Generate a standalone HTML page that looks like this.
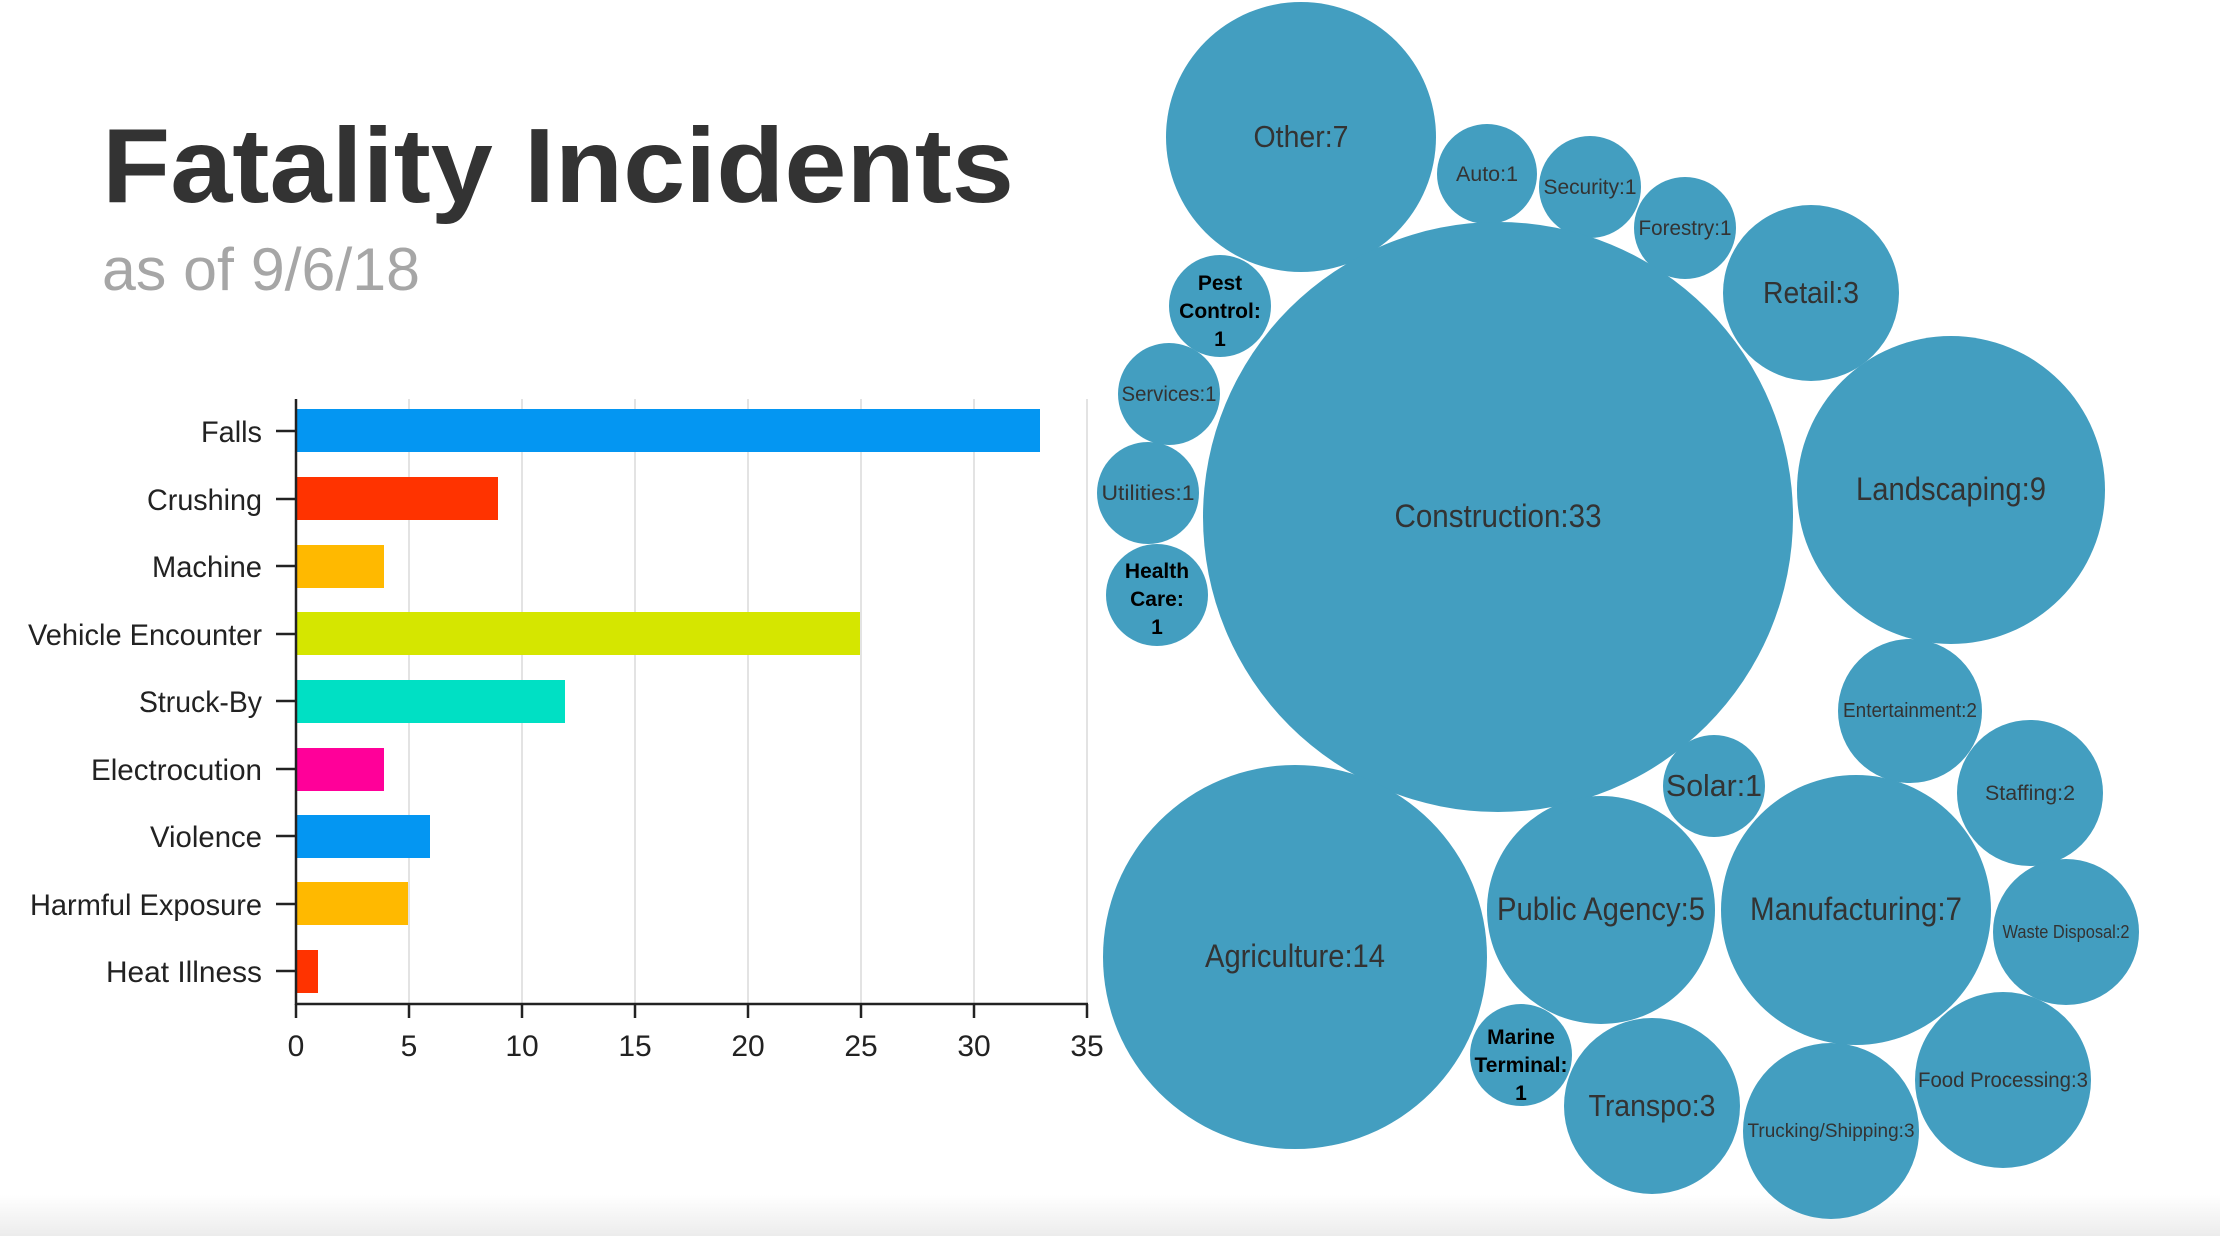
<!DOCTYPE html>
<html><head><meta charset="utf-8"><style>
html,body{margin:0;padding:0;background:#fff;}
svg{display:block;}
.c{fill:#439ec0;}
.t{font-family:"Liberation Sans",sans-serif;fill:#333;text-anchor:middle;}
.b{font-family:"Liberation Sans",sans-serif;fill:#000;text-anchor:middle;font-weight:bold;font-size:21px;}
.yl{font-family:"Liberation Sans",sans-serif;fill:#222;font-size:30px;text-anchor:end;}
.xl{font-family:"Liberation Sans",sans-serif;fill:#222;font-size:30px;text-anchor:middle;}
</style></head><body>
<svg width="2220" height="1236" viewBox="0 0 2220 1236" xmlns="http://www.w3.org/2000/svg">
<defs><linearGradient id="g" x1="0" y1="0" x2="0" y2="1"><stop offset="0" stop-color="#fff"/><stop offset="1" stop-color="#ececec"/></linearGradient></defs>
<rect x="0" y="1195" width="2220" height="41" fill="url(#g)"/>
<text x="102" y="202" font-family="Liberation Sans, sans-serif" font-weight="bold" font-size="106" fill="#333" textLength="912" lengthAdjust="spacingAndGlyphs">Fatality Incidents</text>
<text x="102" y="290" font-family="Liberation Sans, sans-serif" font-size="60" fill="#a6a6a6" textLength="318" lengthAdjust="spacingAndGlyphs">as of 9/6/18</text>
<g stroke="#e3e3e3" stroke-width="2">
<line x1="409" y1="399" x2="409" y2="1004"/><line x1="522" y1="399" x2="522" y2="1004"/>
<line x1="635" y1="399" x2="635" y2="1004"/><line x1="748" y1="399" x2="748" y2="1004"/>
<line x1="861" y1="399" x2="861" y2="1004"/><line x1="974" y1="399" x2="974" y2="1004"/>
<line x1="1087" y1="399" x2="1087" y2="1004"/>
</g>
<rect x="297" y="409" width="743" height="43" fill="#0496f2"/>
<rect x="297" y="477" width="201" height="43" fill="#ff3300"/>
<rect x="297" y="545" width="87" height="43" fill="#ffb900"/>
<rect x="297" y="612" width="563" height="43" fill="#d5e600"/>
<rect x="297" y="680" width="268" height="43" fill="#00e0c4"/>
<rect x="297" y="748" width="87" height="43" fill="#ff0099"/>
<rect x="297" y="815" width="133" height="43" fill="#0496f2"/>
<rect x="297" y="882" width="111" height="43" fill="#ffb900"/>
<rect x="297" y="950" width="21" height="43" fill="#ff3300"/>
<g stroke="#222" stroke-width="2.5">
<line x1="296" y1="399" x2="296" y2="1005"/><line x1="295" y1="1004" x2="1088" y2="1004"/>
<line x1="276" y1="431" x2="296" y2="431"/><line x1="276" y1="499" x2="296" y2="499"/>
<line x1="276" y1="566" x2="296" y2="566"/><line x1="276" y1="634" x2="296" y2="634"/>
<line x1="276" y1="701" x2="296" y2="701"/><line x1="276" y1="769" x2="296" y2="769"/>
<line x1="276" y1="836" x2="296" y2="836"/><line x1="276" y1="904" x2="296" y2="904"/>
<line x1="276" y1="971" x2="296" y2="971"/>
<line x1="296" y1="1004" x2="296" y2="1018"/><line x1="409" y1="1004" x2="409" y2="1018"/>
<line x1="522" y1="1004" x2="522" y2="1018"/><line x1="635" y1="1004" x2="635" y2="1018"/>
<line x1="748" y1="1004" x2="748" y2="1018"/><line x1="861" y1="1004" x2="861" y2="1018"/>
<line x1="974" y1="1004" x2="974" y2="1018"/><line x1="1087" y1="1004" x2="1087" y2="1018"/>
</g>
<text class="yl" x="262" y="442" textLength="61" lengthAdjust="spacingAndGlyphs">Falls</text>
<text class="yl" x="262" y="510" textLength="115" lengthAdjust="spacingAndGlyphs">Crushing</text>
<text class="yl" x="262" y="577" textLength="110" lengthAdjust="spacingAndGlyphs">Machine</text>
<text class="yl" x="262" y="645" textLength="234" lengthAdjust="spacingAndGlyphs">Vehicle Encounter</text>
<text class="yl" x="262" y="712" textLength="123" lengthAdjust="spacingAndGlyphs">Struck-By</text>
<text class="yl" x="262" y="780" textLength="171" lengthAdjust="spacingAndGlyphs">Electrocution</text>
<text class="yl" x="262" y="847" textLength="112" lengthAdjust="spacingAndGlyphs">Violence</text>
<text class="yl" x="262" y="915" textLength="232" lengthAdjust="spacingAndGlyphs">Harmful Exposure</text>
<text class="yl" x="262" y="982" textLength="156" lengthAdjust="spacingAndGlyphs">Heat Illness</text>
<text class="xl" x="296" y="1056">0</text><text class="xl" x="409" y="1056">5</text>
<text class="xl" x="522" y="1056">10</text><text class="xl" x="635" y="1056">15</text>
<text class="xl" x="748" y="1056">20</text><text class="xl" x="861" y="1056">25</text>
<text class="xl" x="974" y="1056">30</text><text class="xl" x="1087" y="1056">35</text>
<circle class="c" cx="1301" cy="137" r="135"/>
<circle class="c" cx="1487" cy="174" r="50"/>
<circle class="c" cx="1590" cy="187" r="51"/>
<circle class="c" cx="1685" cy="228" r="51"/>
<circle class="c" cx="1811" cy="293" r="88"/>
<circle class="c" cx="1220" cy="306" r="51"/>
<circle class="c" cx="1169" cy="394" r="51"/>
<circle class="c" cx="1148" cy="493" r="51"/>
<circle class="c" cx="1157" cy="595" r="51"/>
<circle class="c" cx="1498" cy="517" r="295"/>
<circle class="c" cx="1951" cy="490" r="154"/>
<circle class="c" cx="1910" cy="711" r="72"/>
<circle class="c" cx="2030" cy="793" r="73"/>
<circle class="c" cx="1714" cy="786" r="51"/>
<circle class="c" cx="1295" cy="957" r="192"/>
<circle class="c" cx="1601" cy="910" r="114"/>
<circle class="c" cx="1856" cy="910" r="135"/>
<circle class="c" cx="2066" cy="932" r="73"/>
<circle class="c" cx="1521" cy="1055" r="51"/>
<circle class="c" cx="1652" cy="1106" r="88"/>
<circle class="c" cx="1831" cy="1131" r="88"/>
<circle class="c" cx="2003" cy="1080" r="88"/>
<text class="t" x="1301" y="147" font-size="31" textLength="95" lengthAdjust="spacingAndGlyphs">Other:7</text>
<text class="t" x="1487" y="181" font-size="21" textLength="62" lengthAdjust="spacingAndGlyphs">Auto:1</text>
<text class="t" x="1590" y="194" font-size="21" textLength="93" lengthAdjust="spacingAndGlyphs">Security:1</text>
<text class="t" x="1685" y="235" font-size="21" textLength="93" lengthAdjust="spacingAndGlyphs">Forestry:1</text>
<text class="t" x="1811" y="303" font-size="31" textLength="96" lengthAdjust="spacingAndGlyphs">Retail:3</text>
<text class="b" x="1220" y="290">Pest</text><text class="b" x="1220" y="318">Control:</text><text class="b" x="1220" y="346">1</text>
<text class="t" x="1169" y="401" font-size="21" textLength="95" lengthAdjust="spacingAndGlyphs">Services:1</text>
<text class="t" x="1148" y="500" font-size="21" textLength="93" lengthAdjust="spacingAndGlyphs">Utilities:1</text>
<text class="b" x="1157" y="578">Health</text><text class="b" x="1157" y="606">Care:</text><text class="b" x="1157" y="634">1</text>
<text class="t" x="1498" y="527" font-size="32" textLength="207" lengthAdjust="spacingAndGlyphs">Construction:33</text>
<text class="t" x="1951" y="500" font-size="32" textLength="190" lengthAdjust="spacingAndGlyphs">Landscaping:9</text>
<text class="t" x="1910" y="717" font-size="20" textLength="134" lengthAdjust="spacingAndGlyphs">Entertainment:2</text>
<text class="t" x="2030" y="800" font-size="21" textLength="90" lengthAdjust="spacingAndGlyphs">Staffing:2</text>
<text class="t" x="1714" y="796" font-size="31" textLength="96" lengthAdjust="spacingAndGlyphs">Solar:1</text>
<text class="t" x="1295" y="967" font-size="32" textLength="180" lengthAdjust="spacingAndGlyphs">Agriculture:14</text>
<text class="t" x="1601" y="920" font-size="32" textLength="208" lengthAdjust="spacingAndGlyphs">Public Agency:5</text>
<text class="t" x="1856" y="920" font-size="32" textLength="212" lengthAdjust="spacingAndGlyphs">Manufacturing:7</text>
<text class="t" x="2066" y="938" font-size="18" textLength="127" lengthAdjust="spacingAndGlyphs">Waste Disposal:2</text>
<text class="b" x="1521" y="1044">Marine</text><text class="b" x="1521" y="1072">Terminal:</text><text class="b" x="1521" y="1100">1</text>
<text class="t" x="1652" y="1116" font-size="31" textLength="127" lengthAdjust="spacingAndGlyphs">Transpo:3</text>
<text class="t" x="1831" y="1137" font-size="19" textLength="167" lengthAdjust="spacingAndGlyphs">Trucking/Shipping:3</text>
<text class="t" x="2003" y="1087" font-size="21" textLength="170" lengthAdjust="spacingAndGlyphs">Food Processing:3</text>
</svg>
</body></html>
